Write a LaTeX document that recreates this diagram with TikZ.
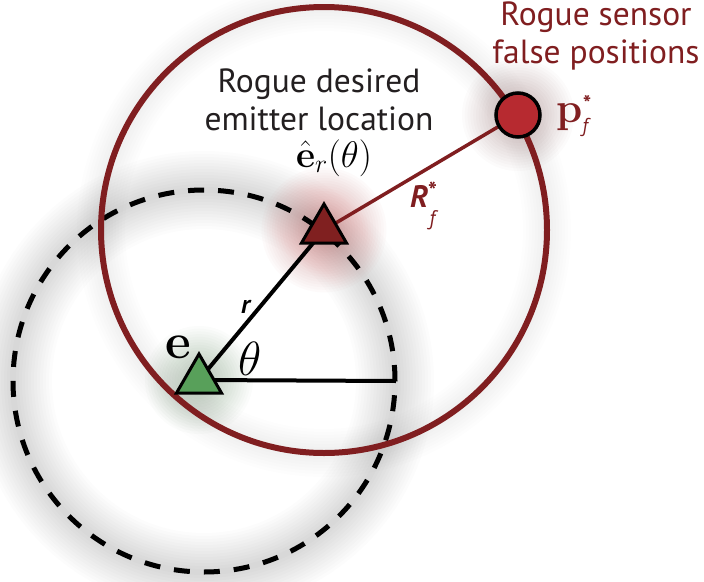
\RequirePackage{fix-cm}
\documentclass[tikz,border=0pt]{standalone}
\usepackage[no-math]{fontspec}
\newfontfamily\ptsans{PT Sans}
\usetikzlibrary{shapes.geometric}
\definecolor{darkred}{RGB}{128,30,32}
\definecolor{pfill}{RGB}{183,42,48}
\definecolor{trired}{RGB}{128,32,32}
\definecolor{trigreen}{RGB}{88,160,90}
\definecolor{textgray}{RGB}{35,31,32}
\definecolor{glowgreen}{RGB}{90,130,90}
\definecolor{glowred}{RGB}{200,80,80}
\definecolor{glowmauve}{RGB}{120,60,60}
\pgfdeclarelayer{bg}
\pgfsetlayers{bg,main}
\begin{document}
\begin{tikzpicture}[x=1pt,y=-1pt,
  tri/.style={regular polygon, regular polygon sides=3, minimum size=52pt,
    inner sep=0pt, draw=black, line width=3pt},
  sensor/.style={circle, minimum size=44pt, inner sep=0pt, fill=pfill,
    draw=black, line width=3.5pt},
  blackline/.style={black, line width=4pt},
  redring/.style={darkred, line width=6pt},
  dashring/.style={black, line width=5pt, dash pattern=on 16pt off 14pt},
  lbl/.style={inner sep=0pt, anchor=base west},
  txt/.style={inner sep=0pt, anchor=base, align=center,
    font=\ptsans\fontsize{33.5}{38}\selectfont}]
\useasboundingbox (0,0) rectangle (704,581);
% key points
\coordinate (dc) at (204,381);
\coordinate (ep) at (199,380);
\coordinate (rp) at (324,230);
\coordinate (pp) at (518,115);
\coordinate (hend) at (396,381);
% nodes
\node[tri, fill=trired] (rt) at (rp) {};
\node[tri, fill=trigreen] (e) at (ep) {};
\node[sensor] (pf) at (pp) {};
\begin{pgfonlayer}{bg}
\fill[white] (0,0) rectangle (704,581);
% halos
\foreach \w in {6,12,...,78}
  \draw[black, opacity=0.01, line width=\w pt] (dc) circle[radius=191pt];
\foreach \w in {6,12,...,48}
  \draw[black, opacity=0.007, line width=\w pt] (rp) circle[radius=223pt];
% glows
\foreach \k in {1,...,20}
  \fill[glowgreen, opacity=0.022] (ep) circle[radius={\k*2.7pt}];
\foreach \k in {1,...,24}
  \fill[glowred, opacity=0.025] (rp) circle[radius={\k*2.6pt}];
\foreach \k in {1,...,20}
  \fill[glowmauve, opacity=0.02] (pp) circle[radius={\k*2.8pt}];
% dashed circle
\draw[dashring] (dc) circle[radius=191pt];
% lines
\draw[blackline] (e.center) -- (hend);
\draw[blackline] (e.center) -- (rt.center);
\draw[redring] (rp) circle[radius=223pt];
\draw[darkred, line width=3.5pt] (rt.center) -- (pf.center);
\end{pgfonlayer}
% labels
\node[txt, text=textgray] (desired) at (319,130) {Rogue desired\\emitter location};
\node[txt, text=darkred] (sensorlbl) at (596,63) {Rogue sensor\\false positions};
\node[lbl] (elbl) at (165,358) {\fontsize{50}{50}\selectfont$\mathbf{e}$};
\node[lbl] (thlbl) at (238,375) {\fontsize{48}{48}\selectfont$\theta$};
\node[lbl] (erlbl) at (296,167) {\fontsize{37}{37}\selectfont$\hat{\mathbf{e}}_r(\theta)$};
\node[lbl, text=black] (rlbl) at (241,313) {\ptsans\bfseries\itshape\fontsize{26}{26}\selectfont r};
\node[lbl, text=darkred] (Rlbl) at (410,207) {\ptsans\bfseries\itshape\fontsize{31}{31}\selectfont R\kern1pt\raisebox{-18pt}{\mdseries\fontsize{21}{21}\selectfont f}\kern-8pt\raisebox{8pt}{\fontsize{24}{24}\selectfont *}};
\node[lbl, text=darkred] (plbl) at (556,122) {\fontsize{42}{42}\selectfont$\mathbf{p}$\kern0pt{\ptsans\itshape\raisebox{-10pt}{\fontsize{20}{20}\selectfont f}\kern-6pt\raisebox{11pt}{\bfseries\fontsize{22}{22}\selectfont *}}};
\end{tikzpicture}
\end{document}
